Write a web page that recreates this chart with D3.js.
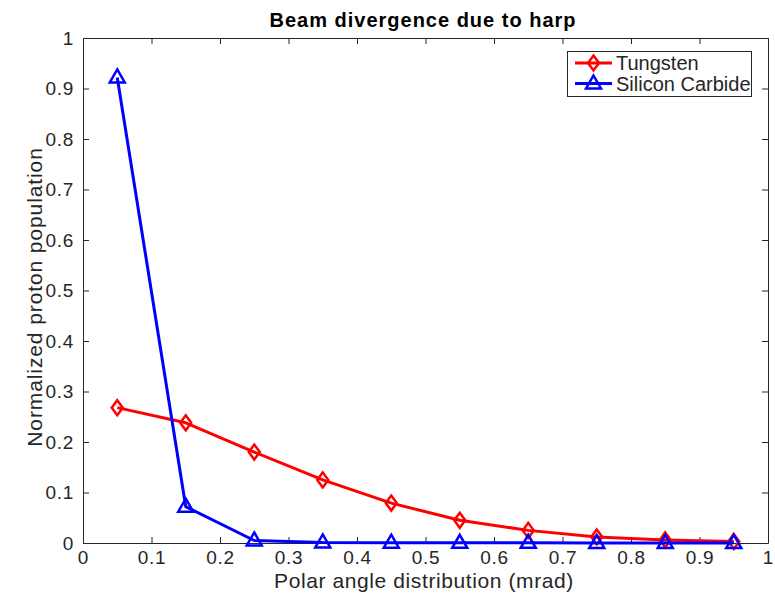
<!DOCTYPE html>
<html><head><meta charset="utf-8">
<script src="https://cdn.jsdelivr.net/npm/d3@7"></script>
<style>body{margin:0;background:#fff}text{font-family:"Liberation Sans",Arial,sans-serif}</style>
</head><body>
<svg id="c" width="775" height="593"></svg>
<script>
const xValues = [0.05,0.15,0.25,0.35,0.45,0.55,0.65,0.75,0.85,0.95];
const tungsten = [0.268,0.238,0.180,0.125,0.079,0.045,0.025,0.012,0.006,0.003];
const siliconCarbide = [0.922,0.072,0.005,0.001,0.0005,0.0004,0.0003,0.0002,0.0002,0.0001];
const xTicks = [0,0.1,0.2,0.3,0.4,0.5,0.6,0.7,0.8,0.9,1];
const yTicks = [0,0.1,0.2,0.3,0.4,0.5,0.6,0.7,0.8,0.9,1];
const seriesNames = ["Tungsten","Silicon Carbide"];
const seriesColors = ["#ff0000","#0000ff"];

const svg = d3.select("#c");
const L=83,R=768,T=38,B=543;
const x = d3.scaleLinear().domain([0,1]).range([L,R]);
const y = d3.scaleLinear().domain([0,1]).range([B,T]);
const axisCol="#262626", textCol="#262626";

const fmt = d=> d===0?"0":d===1?"1":String(d);
const gx = svg.append("g").attr("transform",`translate(0,${B})`)
  .call(d3.axisBottom(x).tickValues(xTicks).tickFormat(fmt).tickSizeInner(-6).tickSizeOuter(0).tickPadding(8));
const gy = svg.append("g").attr("transform",`translate(${L},0)`)
  .call(d3.axisLeft(y).tickValues(yTicks).tickFormat(fmt).tickSizeInner(-6).tickSizeOuter(0).tickPadding(9));
const gt = svg.append("g").attr("transform",`translate(0,${T})`)
  .call(d3.axisTop(x).tickValues(xTicks).tickFormat("").tickSizeInner(-6).tickSizeOuter(0));
const gr = svg.append("g").attr("transform",`translate(${R},0)`)
  .call(d3.axisRight(y).tickValues(yTicks).tickFormat("").tickSizeInner(-6).tickSizeOuter(0));
[gx,gy,gt,gr].forEach(g=>{
  g.selectAll("path,line").attr("stroke",axisCol).attr("stroke-width",1);
  g.selectAll("text").attr("fill",textCol).style("font-size","19px").style("letter-spacing","0.7px")
    .style("font-family","'Liberation Sans',Arial,sans-serif");
});

svg.append("text").attr("x",423).attr("y",27).attr("text-anchor","middle")
  .style("font-size","20px").style("font-weight","bold").style("letter-spacing","1px")
  .attr("fill","#000").text("Beam divergence due to harp");
svg.append("text").attr("x",424).attr("y",588).attr("text-anchor","middle")
  .style("font-size","21px").style("letter-spacing","0.6px").attr("fill",textCol).text("Polar angle distribution (mrad)");
svg.append("text").attr("transform",`translate(42,297) rotate(-90)`).attr("text-anchor","middle")
  .style("font-size","21px").style("letter-spacing","0.9px").attr("fill",textCol).text("Normalized proton population");

const diamond = (g,cx,cy,col)=> g.append("path")
  .attr("d",`M${cx},${cy-7.5}L${cx+5.5},${cy}L${cx},${cy+7.5}L${cx-5.5},${cy}Z`)
  .attr("fill","none").attr("stroke",col).attr("stroke-width",2.5);
const tri = (g,cx,cy,col)=> g.append("path")
  .attr("d",`M${cx},${cy-8}L${cx+7.5},${cy+5}L${cx-7.5},${cy+5}Z`)
  .attr("fill","none").attr("stroke",col).attr("stroke-width",2.5).attr("stroke-linejoin","miter");

const line = d3.line().x((d,i)=>x(xValues[i])).y(d=>y(d));
const plot = svg.append("g");
[tungsten,siliconCarbide].forEach((vals,si)=>{
  plot.append("path").datum(vals).attr("d",line).attr("fill","none")
    .attr("stroke",seriesColors[si]).attr("stroke-width",3).attr("stroke-linejoin","round");
  vals.forEach((v,i)=>{
    (si===0?diamond:tri)(plot,x(xValues[i]),y(v),seriesColors[si]);
  });
});

// legend
const lg = svg.append("g");
lg.append("rect").attr("x",567.5).attr("y",51.5).attr("width",184).attr("height",45)
  .attr("fill","#fff").attr("stroke",axisCol).attr("stroke-width",1);
seriesNames.forEach((n,i)=>{
  const cy = 63 + i*20.5;
  lg.append("line").attr("x1",575).attr("x2",612).attr("y1",cy).attr("y2",cy)
    .attr("stroke",seriesColors[i]).attr("stroke-width",3);
  (i===0?diamond:tri)(lg,593.5,cy,seriesColors[i]);
  lg.append("text").attr("x",616).attr("y",cy+7).style("font-size","20px").attr("fill",textCol).text(n);
});
</script>
</body></html>
